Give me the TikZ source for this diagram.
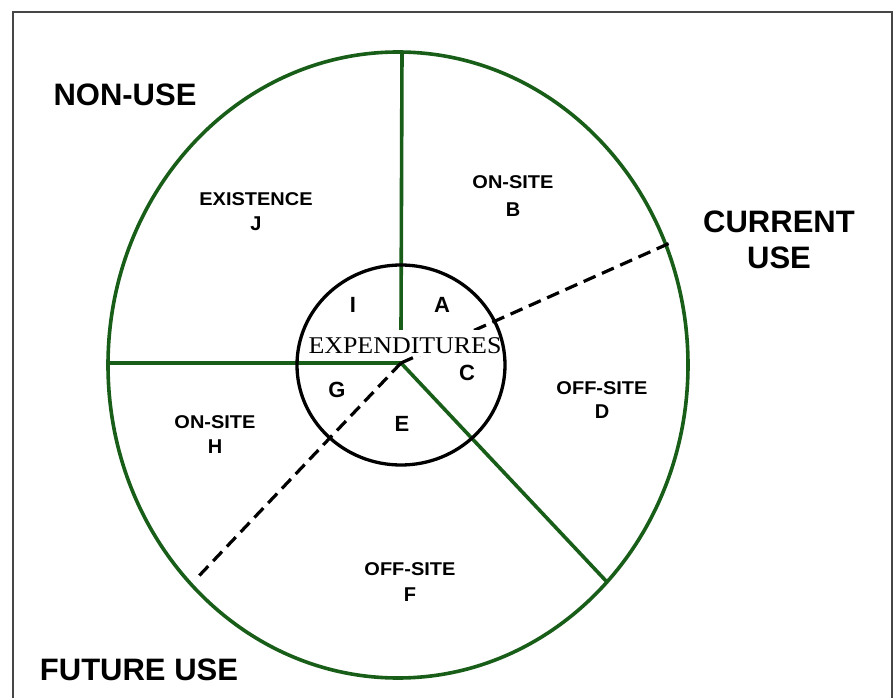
\documentclass[tikz,border=0pt]{standalone}
\usepackage{fontspec}
\setmainfont{Liberation Sans}
\newfontfamily\serifface{Liberation Serif}
\definecolor{dgreen}{RGB}{24,94,24}
\definecolor{framegray}{RGB}{70,70,70}
\tikzset{
  greenline/.style={draw=dgreen, line width=3.6pt},
  dashline/.style={draw=black, line width=3.2pt, dash pattern=on 13pt off 7pt},
  biglabel/.style={font=\fontsize{31}{31}\selectfont\bfseries, anchor=base, inner sep=0pt},
  smalllabel/.style={font=\fontsize{18.5}{18.5}\selectfont\bfseries, anchor=base, inner sep=0pt, xscale=1.08},
  letter/.style={font=\fontsize{22}{22}\selectfont\bfseries, anchor=base, inner sep=0pt},
  subletter/.style={font=\fontsize{20}{20}\selectfont\bfseries, anchor=base, inner sep=0pt},
}
\begin{document}
\begin{tikzpicture}[x=1pt,y=-1pt]
\useasboundingbox (0,0) rectangle (895,698);
\fill[white] (0,0) rectangle (895,698);
% frame
\draw[framegray, line width=2pt] (13,698) -- (13,12) -- (892,12) -- (892,698);
% key points
\coordinate (O) at (401,363);
\coordinate (top) at (402,52);
\coordinate (vend) at (401,330);
\coordinate (left) at (110,363);
\coordinate (lr) at (607,582);
\coordinate (ur) at (670,243);
\coordinate (ll) at (197,578);
% outer ellipse
\draw[greenline] (398,365) ellipse [x radius=290, y radius=313];
% spokes
\draw[greenline] (top) -- (vend);
\draw[greenline] (left) -- (O);
\draw[greenline] (O) -- (lr);
\draw[dashline] (O) -- (ur);
\draw[dashline] (O) -- (ll);
% white box behind EXPENDITURES
\node[fill=white, minimum width=200pt, minimum height=26pt, inner sep=0pt] (box) at (405,343) {};
% inner circle
\draw[black, line width=3.3pt] (401,365) ellipse [x radius=104, y radius=100];
\node[font=\serifface\fontsize{24}{24}\selectfont, anchor=base, inner sep=0pt, xscale=1.08] (exp) at (405,353) {EXPENDITURES};
% inner letters
\node[letter] (I) at (353,312) {I};
\node[letter] (A) at (442,312) {A};
\node[letter] (C) at (467,380) {C};
\node[letter] (G) at (337,397) {G};
\node[letter] (E) at (402,431) {E};
% sector labels
\node[smalllabel] (exist) at (256,205) {EXISTENCE};
\node[subletter] (J) at (256,230) {J};
\node[smalllabel] (onB) at (513,189) {ON-SITE};
\node[subletter] (B) at (513,216) {B};
\node[smalllabel] (offD) at (602,394) {OFF-SITE};
\node[subletter] (D) at (602,418) {D};
\node[smalllabel] (onH) at (215,428) {ON-SITE};
\node[subletter] (H) at (215,453) {H};
\node[smalllabel] (offF) at (410,575) {OFF-SITE};
\node[subletter] (F) at (410,601) {F};
% big labels
\node[biglabel] (nonuse) at (125,106) {NON-USE};
\node[biglabel] (current) at (779,233) {CURRENT};
\node[biglabel] (use) at (779,269) {USE};
\node[biglabel] (future) at (139,680) {FUTURE USE};
\end{tikzpicture}
\end{document}
